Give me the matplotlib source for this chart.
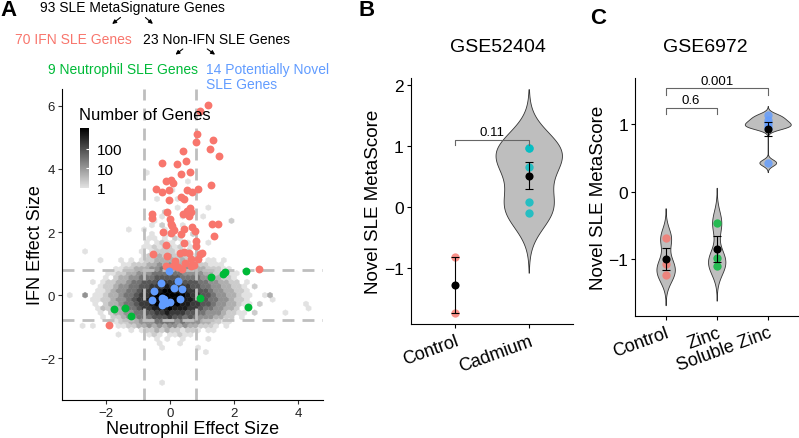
import numpy as np
import matplotlib
matplotlib.use("Agg")
import matplotlib.pyplot as plt
from matplotlib.colors import LinearSegmentedColormap, LogNorm

plt.rcParams['font.family'] = ['Liberation Sans', 'DejaVu Sans']

W, H = 799, 439

# ---------------- panel A data ----------------
# IFN genes (red)
ifn_x = [1.18, 0.94, 0.85, 0.82, 1.35, 1.24, 1.53, 0.42, -0.26, 0.21,
         0.49, 0.35, 0.64, 0.03, -0.11, 0.09, -0.43, -0.26, -0.02, 0.54,
         0.70, 0.87, 1.29, 0.36, 0.43, -0.03, 0.62, 0.54, 0.66, -0.08,
         -0.55, -0.56, 0.42, 0.61, 0.00, 0.04, 0.07, 0.13, 1.31, 1.49,
         0.70, 0.43, -0.21, 0.02, 0.77, 1.39, 0.36, 0.80, 0.43, -0.11,
         0.43, 0.82, -0.53, -0.08, 0.31, 0.15, 0.61, 0.93, 1.00, 0.65,
         0.89, -0.11, 0.10, 0.37, 0.66, 2.77, -1.89, 0.25, 0.75, 0.47]
ifn_y = [6.03, 5.82, 5.12, 4.85, 4.90, 4.63, 4.42, 4.57, 4.19, 4.15,
         4.24, 3.84, 3.89, 3.66, 3.61, 3.56, 3.36, 3.26, 3.32, 3.33,
         3.26, 3.35, 3.50, 3.12, 3.06, 3.01, 2.77, 2.68, 2.64, 2.64,
         2.58, 2.46, 2.56, 2.50, 2.40, 2.27, 2.19, 2.08, 2.24, 2.26,
         2.16, 2.10, 1.99, 1.96, 2.03, 1.87, 1.94, 1.72, 1.64, 1.58,
         1.37, 1.56, 1.29, 1.23, 1.35, 1.08, 1.35, 1.29, 1.35, 1.14,
         1.14, 0.93, 0.93, 0.84, 0.93, 0.82, -0.94, 0.88, 0.97, 1.02]
# neutrophil genes (green)
neut_x = [-1.74, -1.40, -1.21, 0.95, 1.27, 1.65, 1.73, 2.37, 2.44]
neut_y = [-0.44, -0.40, -0.67, -0.09, 0.56, 0.66, 0.74, 0.75, -0.38]
# potentially novel genes (blue)
novel_x = [-0.02, -0.28, 0.24, -0.48, 0.14, 0.37, -0.55, -0.26, -0.21,
           -0.23, -0.13, 0.01, 0.33, -0.17]
novel_y = [0.75, 0.40, 0.44, 0.12, 0.23, 0.20, -0.16, -0.09, -0.21,
           -0.31, -0.25, -0.23, -0.12, -0.12]

# all-gene background, read off as a shade level per hexagon
# (row index from the bottom, first column, one character per hexagon)
hex_rows = [
    (10, 18, "1...1"),
    (11, 17, "1.1..1"),
    (12, 16, "121.11211"),
    (13, 12, "1.12232322122" + "1.11"),
    (14, 10, "1122334343443433222" + "1.1"),
    (15, 8, "112233444555545444332211"),
    (16, 7, "1.223445556667665654443322.1"),
    (17, 6, "1.233445566778777665544432211"),
    (18, 6, "1123345567788898887765544332.1"),
    (19, 5, "1.23345567789999988776654433211"),
    (20, 6, "122344567789999998877655443221"),
    (21, 5, "1123345567789999998776654433211"),
    (22, 6, "112344556778899888776654433221"),
    (23, 6, "12234455667778777766554433221"),
    (24, 7, "122334556667777666655443322.1"),
    (25, 7, "1.233445556666655554433221."),
    (26, 8, "11223344455555544443322211"),
    (27, 9, "11223334454444433322211"),
    (28, 11, "11222334343333222111"),
    (29, 12, "1.122333323221.11"),
    (30, 14, ".122323232211"),
    (31, 14, "1.12222122.1"),
    (32, 15, "11212212.1"),
    (33, 15, "1.1211.11"),
    (34, 16, "11.1.21"),
    (35, 16, "1..11...2"),
    (36, 15, "1...1.1"),
    (37, 16, "1.1...1"),
    (38, 17, "1..1"),
    (39, 18, "1...1"),
    (40, 19, "1"),
    (41, 21, "1"),
]
hex_extra_x = [-3.10, -2.67, -2.41, -2.41, -2.10, -2.78, -2.36, -1.62, -2.10,
               -1.57, -2.60, -1.26, -0.69, 0.55, 1.21, 2.00, 1.73, 3.58, 4.18,
               4.39, 3.23, 2.92, 3.15, 2.62, 2.78, 2.67, 1.25, 1.20, -0.24,
               0.84, -0.24, 1.21, 1.05, -0.16, -0.32, 0.30, 0.10, -0.40, 0.85]
hex_extra_y = [0.05, 0.05, 0.50, -0.18, -0.39, -1.02, -0.97, -1.18, 1.14,
               1.14, 1.43, 2.05, 3.89, 3.59, 1.62, 2.37, 1.14, -0.55, -0.26,
               -0.42, -0.10, -0.06, 0.03, 0.24, -0.28, -0.58, -1.34, -1.81, -1.65,
               -1.65, -2.86, 2.84, 2.53, 2.66, 2.24, 3.10, 3.40, 3.00, 3.30]
hex_extra_lvl = "1411211111111112111111322211111111111111"
level_counts = {'1': 1, '2': 2, '3': 5, '4': 12, '5': 30, '6': 75,
                '7': 180, '8': 450, '9': 1100}

top_texts = ["93 SLE MetaSignature Genes", "70 IFN SLE Genes", "23 Non-IFN SLE Genes",
             "9 Neutrophil SLE Genes", "14 Potentially Novel\nSLE Genes"]

# ---------------- panel B / C data ----------------
b_groups = ["Control", "Cadmium"]
b_values = [[-0.82, -1.75], [0.96, 0.96, 0.65, 0.08, -0.11]]
b_pvals = [(1, 2, 1.10, "0.11")]

c_groups = ["Control", "Zinc", "Soluble Zinc"]
c_values = [[-0.69, -1.08, -1.24], [-0.46, -0.99, -1.10],
            [1.13, 1.07, 1.02, 0.98, 0.95, 0.43]]
c_pvals = [(1, 2, 1.24, "0.6"), (1, 3, 1.53, "0.001")]

RED, GREEN, BLUE, CYAN = "#F8766D", "#00BA38", "#619CFF", "#00BFC4"


def px_ax(l, t, r, b):
    return [l / W, 1 - b / H, (r - l) / W, (b - t) / H]


def fx(x):
    return x / W


def fy(y):
    return 1 - y / H


fig = plt.figure(figsize=(W / 100, H / 100), dpi=100)

# ================= panel A =================
axA = fig.add_axes(px_ax(62, 90, 323, 401))

dx = 0.16
x0, y0 = -3.2, -2.91
hx, hy, hc = [], [], []
for k, start, s in hex_rows:
    off = dx / 2 if k % 2 else 0.0
    for j, ch in enumerate(s):
        if ch == '.':
            continue
        hx.append(x0 + off + (start + j) * dx)
        hy.append(y0 + k * dx * np.sqrt(3) / 2)
        hc.append(level_counts[ch])
for xx, yy, ch in zip(hex_extra_x, hex_extra_y, hex_extra_lvl):
    hx.append(xx)
    hy.append(yy)
    hc.append(level_counts[ch])

grey = LinearSegmentedColormap.from_list("grey", ["#E2E2E2", "#000000"])
hb = axA.hexbin(hx, hy, C=hc, reduce_C_function=np.sum,
                gridsize=(50, 26),
                extent=(x0, x0 + 50 * dx, y0, y0 + 26 * dx * np.sqrt(3)),
                cmap=grey, norm=LogNorm(vmin=1, vmax=max(hc)),
                edgecolors='face', linewidths=0.3, zorder=1)

dash_kw = dict(color="#BEBEBE", lw=2.0, dashes=(4.3, 2.9), zorder=2)
for v in (-0.8, 0.8):
    axA.axvline(v, **dash_kw)
    axA.axhline(v, **dash_kw)

axA.scatter(ifn_x, ifn_y, s=32, color=RED, lw=0, zorder=3)
axA.scatter(neut_x, neut_y, s=32, color=GREEN, lw=0, zorder=3)
axA.scatter(novel_x, novel_y, s=32, color=BLUE, lw=0, zorder=3)

axA.set_xlim(-3.36, 4.77)
axA.set_ylim(-3.32, 6.53)
axA.set_xticks([-2, 0, 2, 4])
axA.set_yticks([-2, 0, 2, 4, 6])
axA.spines[['top', 'right']].set_visible(False)
for sp in ('left', 'bottom'):
    axA.spines[sp].set_linewidth(0.8)
axA.tick_params(labelsize=9.5, length=3, width=0.8, pad=2, colors='#333333',
                labelcolor='#222222')
axA.set_xlabel("Neutrophil Effect Size", fontsize=13, labelpad=1)
axA.set_ylabel("IFN Effect Size", fontsize=13, labelpad=-3)

# legend colourbar
fig.text(fx(79), fy(116), "Number of Genes", fontsize=12, ha='left', va='center')
cax = fig.add_axes(px_ax(80, 129, 89, 189))
cb = fig.colorbar(hb, cax=cax)
cb.outline.set_visible(False)
cb.set_ticks([1, 10, 100])
cb.set_ticklabels(["1", "10", "100"])
cax.minorticks_off()
cax.tick_params(labelsize=11, length=2, width=0.8, color='white', direction='in', pad=6)

# hierarchy text above panel A
fig.text(fx(40), fy(8), top_texts[0], fontsize=10, ha='left', va='center')
fig.text(fx(15), fy(40), top_texts[1], fontsize=10, ha='left', va='center', color=RED)
fig.text(fx(142.7), fy(40), top_texts[2], fontsize=10, ha='left', va='center')
fig.text(fx(47.7), fy(70), top_texts[3], fontsize=10, ha='left', va='center', color=GREEN)
fig.text(fx(206), fy(63), top_texts[4], fontsize=10, ha='left', va='top',
         color=BLUE, linespacing=1.05)
arrows = [((122.7, 16.7), (110, 26.7)), ((143.3, 16.7), (155, 26.7)),
          ((185, 48.3), (173.3, 57.3)), ((205, 48.3), (217.3, 57.3))]
for (sx, sy), (ex, ey) in arrows:
    fig.add_artist(matplotlib.patches.FancyArrowPatch(
        (fx(sx), fy(sy)), (fx(ex), fy(ey)), transform=fig.transFigure,
        arrowstyle='-|>', mutation_scale=6, lw=0.8, color='black'))


# ================= panels B and C =================
def nrd0(v):
    v = np.asarray(v, float)
    sd = v.std(ddof=1)
    q75, q25 = np.percentile(v, [75, 25])
    lo = min(sd, (q75 - q25) / 1.34)
    return 0.9 * lo * len(v) ** -0.2


def density(v):
    v = np.asarray(v, float)
    bw = nrd0(v)
    yy = np.linspace(v.min() - 3 * bw, v.max() + 3 * bw, 512)
    d = np.exp(-0.5 * ((yy[:, None] - v[None, :]) / bw) ** 2).sum(1)
    return yy, d / (len(v) * bw * np.sqrt(2 * np.pi))


def group_panel(ax, groups, values, colors, pvals, ylim, yticks, drop):
    dens = {i: density(v) for i, v in enumerate(values) if len(v) >= 3}
    dmax = max(d.max() for _, d in dens.values())
    for i, (yy, d) in dens.items():
        w = 0.45 * d / dmax
        ax.fill_betweenx(yy, i + 1 - w, i + 1 + w, facecolor="#BEBEBE",
                         edgecolor="#333333", lw=0.6, zorder=1)
    for i, v in enumerate(values):
        v = np.asarray(v, float)
        pos = i + 1
        ax.scatter(np.full(len(v), pos), v, s=36, color=colors[i], lw=0,
                   alpha=0.8, zorder=2)
        m = v.mean()
        se = v.std(ddof=1) / np.sqrt(len(v))
        ax.errorbar(pos, m, yerr=se, fmt='none', ecolor='black', elinewidth=0.8,
                    capsize=2.6, capthick=0.8, zorder=3)
        ax.scatter([pos], [m], s=34, color='black', lw=0, zorder=4)
    for a, b, y, lab in pvals:
        ax.plot([a, a, b, b], [y - drop, y, y, y - drop], color="#666666",
                lw=0.8, zorder=2)
        ax.text((a + b) / 2, y + 0.025, lab, ha='center', va='bottom', fontsize=9.5)
    ax.set_xlim(0.4, len(groups) + 0.6)
    ax.set_ylim(*ylim)
    ax.set_yticks(yticks)
    ax.set_xticks(range(1, len(groups) + 1))
    ax.set_xticklabels(groups, rotation=20, ha='right', va='top',
                       rotation_mode='anchor', fontsize=13)
    ax.spines[['top', 'right']].set_visible(False)
    for sp in ('left', 'bottom'):
        ax.spines[sp].set_linewidth(0.8)
    ax.tick_params(axis='y', labelsize=12.5, length=3, width=0.8, pad=2)
    ax.tick_params(axis='x', length=3, width=0.8, pad=3)
    ax.set_ylabel("Novel SLE MetaScore", fontsize=13.5, labelpad=1)


axB = fig.add_axes(px_ax(410.7, 79, 573, 325))
group_panel(axB, b_groups, b_values, [RED, CYAN], b_pvals, (-1.93, 2.12),
            [-1, 0, 1, 2], 0.075)
fig.text(fx(498), fy(47), "GSE52404", fontsize=14, ha='center', va='center')

axC = fig.add_axes(px_ax(635, 78.7, 798.4, 316.7))
group_panel(axC, c_groups, c_values, [RED, GREEN, BLUE], c_pvals, (-1.84, 1.69),
            [-1, 0, 1], 0.09)
fig.text(fx(705.7), fy(47), "GSE6972", fontsize=14, ha='center', va='center')

# panel letters
fig.text(fx(0), fy(11), "A", fontsize=16, fontweight='bold', ha='left', va='center')
fig.text(fx(358), fy(11), "B", fontsize=16, fontweight='bold', ha='left', va='center')
fig.text(fx(590), fy(18), "C", fontsize=16, fontweight='bold', ha='left', va='center')

fig.savefig("out.png", dpi=100)
